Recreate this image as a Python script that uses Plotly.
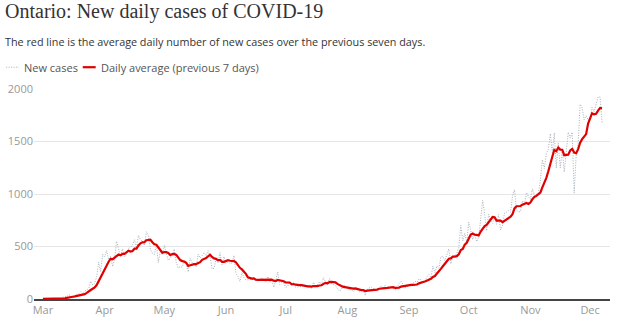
import pandas as pd
import plotly.graph_objects as go

start_date = "2020-03-01"

new_cases = [
    # March
    3, 2, 0, 2, 6, 1, 2, 3, 2, 6, 17, 20, 24, 42, 32, 8, 29, 44, 50, 69, 48, 78, 85, 100, 170, 135, 151, 211, 351, 260, 426,
    # April
    401, 462, 375, 408, 309, 379, 550, 478, 411, 478, 401, 421, 483, 494, 514, 564, 485, 606, 564, 551, 510, 640, 606, 476, 437, 424, 525, 347, 459, 421,
    # May
    511, 434, 370, 387, 412, 477, 346, 294, 308, 304, 361, 329, 258, 391, 345, 340, 304, 427, 390, 413, 441, 412, 460, 404, 287, 292, 383, 344, 441, 326, 404,
    # June
    338, 356, 338, 344, 415, 243, 215, 167, 251, 203, 182, 180, 184, 190, 182, 173, 186, 178, 206, 180, 161, 215, 163, 189, 111, 178, 257, 138, 157, 153,
    # July
    111, 121, 165, 138, 154, 112, 118, 118, 116, 130, 129, 116, 111, 102, 160, 111, 135, 164, 135, 203, 165, 134, 195, 146, 138, 128, 99, 76, 89, 134, 123,
    # August
    104, 86, 91, 70, 95, 88, 70, 89, 89, 33, 95, 102, 115, 99, 90, 95, 88, 125, 102, 131, 108, 105, 113, 100, 90, 100, 148, 169, 137, 112, 114,
    # September
    133, 132, 148, 169, 158, 190, 185, 149, 170, 213, 232, 204, 313, 251, 315, 293, 401, 407, 365, 425, 478, 335, 409, 409, 435, 491, 700, 554, 625, 538,
    # October
    732, 653, 566, 615, 548, 583, 797, 939, 809, 649, 807, 746, 721, 783, 712, 805, 658, 704, 821, 827, 841, 826, 978, 1042, 851, 827, 834, 934, 896, 1015, 977,
    # November
    948, 1050, 987, 998, 1003, 1132, 1328, 1242, 1388, 1426, 1575, 1396, 1581, 1248, 1487, 1249, 1417, 1210, 1418, 1588, 1534, 1589, 1009, 1373, 1478, 1855, 1822, 1708, 1746, 1707,
    # December
    1723, 1824, 1780, 1859, 1924, 1925, 1676,
]

daily_average = [
    # March
    1, 1, 1, 1, 2, 2, 2.3, 2.3, 2.3, 3.1, 5.3, 7.3, 10.6, 16.3, 20.4, 21.3, 24.6, 28.4, 32.7, 39.1, 40, 46.6, 57.6, 67.7, 85.7, 97.9, 109.6, 132.9, 171.9, 196.9, 243.4,
    # April
    276.4, 323.1, 355.1, 383.3, 377.3, 394.3, 412.0, 423.0, 415.7, 430.4, 429.4, 445.4, 460.3, 452.3, 457.4, 479.3, 480.3, 509.6, 530.0, 539.7, 542.0, 560.0, 566.0, 564.7, 540.6, 520.6, 516.9, 493.6, 467.7, 441.3,
    # May
    446.3, 445.9, 438.1, 418.4, 427.7, 430.3, 419.6, 388.6, 370.6, 361.1, 357.4, 345.6, 314.3, 320.7, 328.0, 332.6, 332.6, 342.0, 350.7, 372.9, 380.0, 389.6, 406.7, 421.0, 401.0, 387.0, 382.7, 368.9, 373.0, 353.9, 353.9,
    # June
    361.1, 370.3, 363.9, 363.9, 360.1, 348.3, 321.3, 296.9, 281.9, 262.6, 239.4, 205.9, 197.4, 193.9, 196.0, 184.9, 182.4, 181.9, 185.6, 185.0, 180.9, 185.6, 184.1, 184.6, 175.0, 171.0, 182.0, 178.7, 170.4, 169.0,
    # July
    157.9, 159.3, 157.4, 140.4, 142.7, 136.3, 131.3, 132.3, 131.6, 126.6, 125.3, 119.9, 119.7, 117.4, 123.4, 122.7, 123.4, 128.4, 131.1, 144.3, 153.3, 149.6, 161.6, 163.1, 159.4, 158.4, 143.6, 130.9, 124.4, 115.7, 112.4,
    # August
    107.6, 101.6, 100.4, 99.6, 100.4, 93.9, 86.3, 84.1, 84.6, 76.3, 79.9, 80.9, 84.7, 88.9, 89.0, 89.9, 97.7, 102.0, 102.0, 104.3, 105.6, 107.7, 110.3, 112.0, 107.0, 106.7, 109.1, 117.9, 122.4, 122.3, 124.3,
    # September
    130.4, 135.0, 135.0, 135.0, 138.0, 149.1, 159.3, 161.6, 167.0, 176.3, 185.3, 191.9, 209.4, 218.9, 242.6, 260.1, 287.0, 312.0, 335.0, 351.0, 383.4, 386.3, 402.9, 404.0, 408.0, 426.0, 465.3, 476.1, 517.6, 536.0,
    # October
    582.1, 613.3, 624.0, 611.9, 611.0, 605.0, 642.0, 671.6, 693.9, 705.7, 733.1, 761.4, 781.1, 779.1, 746.7, 746.1, 747.4, 732.7, 743.4, 758.6, 766.9, 783.1, 807.9, 862.7, 883.7, 884.6, 885.6, 898.9, 908.9, 914.1, 904.9,
    # November
    918.7, 950.6, 972.4, 981.6, 996.9, 1013.6, 1063.7, 1105.7, 1154.0, 1216.7, 1299.1, 1355.3, 1419.4, 1408.0, 1443.0, 1423.1, 1421.9, 1369.7, 1372.9, 1373.9, 1414.7, 1429.3, 1395.0, 1388.7, 1427.0, 1489.4, 1522.9, 1547.7, 1570.1, 1669.9,
    # December
    1719.9, 1769.3, 1758.6, 1763.9, 1794.7, 1820.3, 1815.9,
]

dates = pd.date_range(start_date, periods=len(new_cases), freq="D")

tick_dates = ["2020-03-01", "2020-04-01", "2020-05-01", "2020-06-01", "2020-07-01", "2020-08-01",
              "2020-09-01", "2020-10-01", "2020-11-01", "2020-12-01"]
tick_labels = ["Mar", "Apr", "May", "Jun", "Jul", "Aug", "Sep", "Oct", "Nov", "Dec"]
y_ticks = [0, 500, 1000, 1500, 2000]

title_text = "Ontario: New daily cases of COVID-19"
subtitle_text = "The red line is the average daily number of new cases over the previous seven days."
legend_labels = ["New cases", "Daily average (previous 7 days)"]

grey_line = "#a4b0bc"
red_line = "#e00000"
font_family = "Open Sans, sans-serif"

fig = go.Figure()
fig.add_trace(go.Scatter(x=dates, y=new_cases, mode="lines", name=legend_labels[0],
                         line=dict(color=grey_line, width=1, dash="1px,1.5px"), hoverinfo="skip"))
fig.add_trace(go.Scatter(x=dates, y=daily_average, mode="lines", name=legend_labels[1],
                         line=dict(color=red_line, width=2.2), hoverinfo="skip"))

W, H = 618, 325
ml, mr, mt, mb = 31, 8, 89, 24
pw, ph = W - ml - mr, H - mt - mb

fig.update_layout(
    width=W, height=H,
    margin=dict(l=ml, r=mr, t=mt, b=mb),
    paper_bgcolor="white", plot_bgcolor="white",
    showlegend=False,
    font=dict(family=font_family, size=11, color="#999999"),
    xaxis=dict(
        type="date",
        range=["2020-02-25 12:00", "2020-12-11"],
        tickvals=tick_dates, ticktext=tick_labels,
        showgrid=False, zeroline=False,
        showline=True, linecolor="#444444", linewidth=1.5,
        ticks="", ticklen=0,
        tickfont=dict(size=11, color="#999999"),
        fixedrange=True,
    ),
    yaxis=dict(
        range=[0, 2000],
        tickvals=y_ticks,
        showgrid=True, gridcolor="#e6e6e6", gridwidth=1,
        zeroline=False, showline=False,
        ticks="", ticklen=0,
        tickfont=dict(size=11, color="#999999"),
        fixedrange=True,
    ),
)

# convert page pixels to paper coordinates (paper = plot area)
def px_x(x):
    return (x - ml) / pw

def px_y(y):
    return (H - mb - y) / ph

annotations = [
    dict(text=title_text, x=px_x(0), y=px_y(11), xref="paper", yref="paper",
         xanchor="left", yanchor="middle", showarrow=False,
         font=dict(family="Liberation Serif, serif", size=20, color="#333333")),
    dict(text=subtitle_text, x=px_x(0), y=px_y(41), xref="paper", yref="paper",
         xanchor="left", yanchor="middle", showarrow=False,
         font=dict(family=font_family, size=10.8, color="#333333")),
    dict(text=legend_labels[0], x=px_x(19), y=px_y(67), xref="paper", yref="paper",
         xanchor="left", yanchor="middle", showarrow=False,
         font=dict(family=font_family, size=11, color="#555555")),
    dict(text=legend_labels[1], x=px_x(96), y=px_y(67), xref="paper", yref="paper",
         xanchor="left", yanchor="middle", showarrow=False,
         font=dict(family=font_family, size=11, color="#555555")),
]
shapes = [
    dict(type="line", xref="paper", yref="paper", x0=px_x(3), x1=px_x(16), y0=px_y(67), y1=px_y(67),
         line=dict(color=grey_line, width=1, dash="1px,1.5px")),
    dict(type="line", xref="paper", yref="paper", x0=px_x(80), x1=px_x(93), y0=px_y(67), y1=px_y(67),
         line=dict(color=red_line, width=2.2)),
]
fig.update_layout(annotations=annotations, shapes=shapes)

fig.write_html("out.html", config={"displayModeBar": False})
